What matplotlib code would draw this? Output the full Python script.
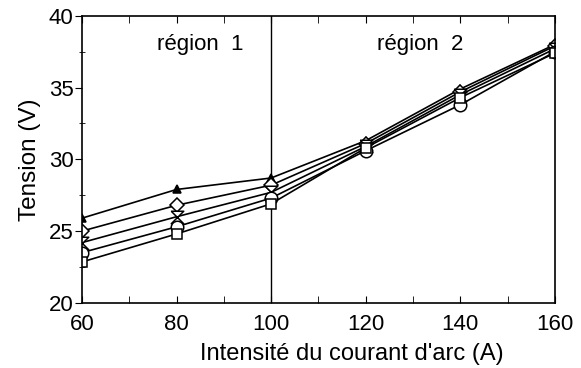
import matplotlib
matplotlib.use('Agg')
import matplotlib.pyplot as plt
from matplotlib.ticker import MultipleLocator

plt.rcParams['font.family'] = ['Liberation Sans', 'DejaVu Sans']

# courant d'arc (A)
courant = [60, 80, 100, 120, 140, 160]

# tension (V) pour chaque serie
tension_a = [25.9, 27.9, 28.7, 31.3, 34.9, 38.0]
tension_b = [25.0, 26.8, 28.2, 31.1, 34.7, 37.9]
tension_c = [24.2, 26.0, 27.7, 30.9, 34.5, 37.7]
tension_d = [23.5, 25.3, 27.3, 30.6, 33.8, 37.5]
tension_e = [22.85, 24.8, 26.9, 30.8, 34.3, 37.4]

hourglass = [(-1, 1), (1, 1), (-1, -1), (1, -1), (-1, 1)]

series = [
    (tension_a, '^', 6, 'black'),
    (tension_b, 'D', 7, 'white'),
    (tension_c, hourglass, 9, 'white'),
    (tension_d, 'o', 9, 'white'),
    (tension_e, 's', 7, 'white'),
]

fig = plt.figure(figsize=(5.81, 3.68), dpi=100)
ax = fig.add_axes([0.141, 0.177, 0.814, 0.78])

for y, m, ms, fc in series:
    ax.plot(courant, y, '-', color='black', lw=1.2, marker=m, ms=ms,
            mfc=fc, mec='black', mew=1.1)

ax.axvline(100, color='black', lw=1.0, zorder=0)

ax.text(85, 38.0, 'région  1', fontsize=16, ha='center', va='center')
ax.text(131.5, 38.0, 'région  2', fontsize=16, ha='center', va='center')

ax.set_xlim(60, 160)
ax.set_ylim(20, 40)
ax.xaxis.set_major_locator(MultipleLocator(20))
ax.xaxis.set_minor_locator(MultipleLocator(10))
ax.yaxis.set_major_locator(MultipleLocator(5))
ax.yaxis.set_minor_locator(MultipleLocator(2.5))
ax.tick_params(axis='x', which='both', direction='in', top=True, labelsize=16, length=5, pad=8)
ax.tick_params(axis='y', which='major', direction='out', right=False, labelsize=16, length=5, pad=1)
ax.tick_params(axis='y', which='minor', direction='inout', length=5)

for s in ax.spines.values():
    s.set_linewidth(1.2)

ax.set_xlabel("Intensité du courant d'arc (A)", fontsize=17, labelpad=3)
ax.xaxis.set_label_coords(0.57, -0.14)
ax.set_ylabel('Tension (V)', fontsize=17.5, labelpad=6)

fig.savefig('out.png', dpi=100)
